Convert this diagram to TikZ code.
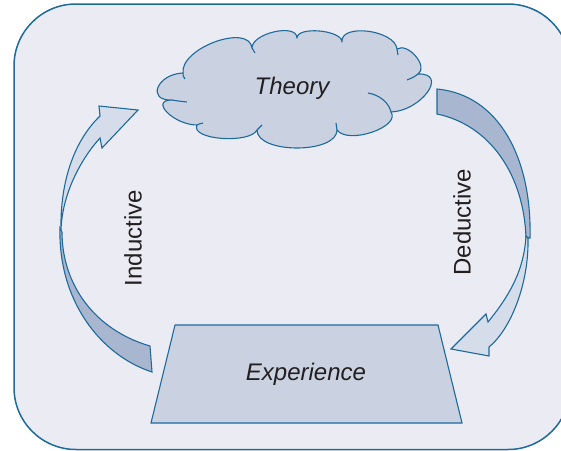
\documentclass[tikz,border=0pt]{standalone}
\usepackage{fontspec}
\setmainfont{Liberation Sans}
\definecolor{panel}{HTML}{EBECF3}
\definecolor{boxfill}{HTML}{CAD2E1}
\definecolor{lightfill}{HTML}{D6DDEA}
\definecolor{darkfill}{HTML}{A8B7CF}
\definecolor{lineblue}{HTML}{1D6A9C}
\definecolor{ink}{HTML}{231F20}
\begin{document}
\begin{tikzpicture}[x=1pt,y=-1pt,
  frame/.style={draw=lineblue, line width=1.5pt, fill=panel},
  shapefill/.style={draw=lineblue, line width=1.1pt, fill=boxfill, line join=round},
  puffline/.style={draw=lineblue, line width=1.1pt},
  lightband/.style={draw=lineblue, line width=1.1pt, fill=lightfill, line join=miter},
  darkband/.style={draw=lineblue, line width=1.1pt, fill=darkfill},
  label/.style={text=ink, font=\fontsize{24}{28}\selectfont, inner sep=0pt},
]
\useasboundingbox (0,0) rectangle (561,450);
\clip (0,0) rectangle (561,450);

% rounded background panel
\path[frame, rounded corners=62pt] (14,4) rectangle (570,449.5);

% inductive arrow: dark lower band, light upper band with head
\path[darkband] (60,228) .. controls (58,300) and (100,355) .. (152,372)
  -- (150,346) .. controls (95,330) and (62,285) .. (62,232) -- cycle;
\path[lightband] (100,116) -- (99,106) -- (138,110) -- (102,148) -- (100,138)
  .. controls (80,160) and (62,195) .. (61,230)
  .. controls (60,180) and (75,140) .. (100,116) -- cycle;

% deductive arrow: dark upper band, light lower band with head
\path[darkband] (437,89) .. controls (500,95) and (532,160) .. (530,238)
  -- (526,238) .. controls (524,175) and (490,125) .. (437,114) -- cycle;
\path[lightband] (526,236) .. controls (524,270) and (510,295) .. (488,322)
  -- (486,314) -- (451,349) -- (489,356) -- (489,347)
  .. controls (510,330) and (529,285) .. (528,238) -- cycle;

% theory cloud
\path[shapefill] (183,73)
  .. controls (180,48) and (249,23) .. (252,48)
  .. controls (252,33) and (297,23) .. (297,38)
  .. controls (297,26) and (342,30) .. (342,42)
  .. controls (340,23) and (395,30) .. (397,49)
  .. controls (408,42) and (429,67) .. (418,74)
  .. controls (449,73) and (421,111) .. (391,112)
  .. controls (401,127) and (348,145) .. (337,130)
  .. controls (337,154) and (257,154) .. (257,130)
  .. controls (250,144) and (190,140) .. (197,125)
  .. controls (174,125) and (149,100) .. (172,100)
  .. controls (146,101) and (157,74) .. (183,73) -- cycle;
% inner puff strokes
\path[puffline] (368,93) .. controls (380,95) and (389,103) .. (391,112);
\path[puffline] (418,74) .. controls (414,77) .. (407,80);
\path[puffline] (172,100) .. controls (178,101) .. (187,102);
\path[puffline] (337,130) .. controls (336,127) .. (336,123);
\path[puffline] (257,130) .. controls (259,127) .. (262,125);
\path[puffline] (197,125) .. controls (199,124) .. (203,123);
\path[puffline] (252,48) .. controls (253,50) .. (255,53);
\path[puffline] (183,73) .. controls (183,76) .. (185,79);
\path[puffline] (397,49) .. controls (398,52) .. (398,55);
\node[label] (theory) at (292,88) {\itshape Theory};

% experience trapezoid
\path[shapefill, line join=miter] (175,325) -- (438,325) -- (462,423) -- (151,423) -- cycle;
\node[label] (experience) at (306,374) {\itshape Experience};

% side labels
\node[label, rotate=90] (inductive) at (133,238) {Inductive};
\node[label, rotate=90] (deductive) at (462,222) {Deductive};
\end{tikzpicture}
\end{document}
